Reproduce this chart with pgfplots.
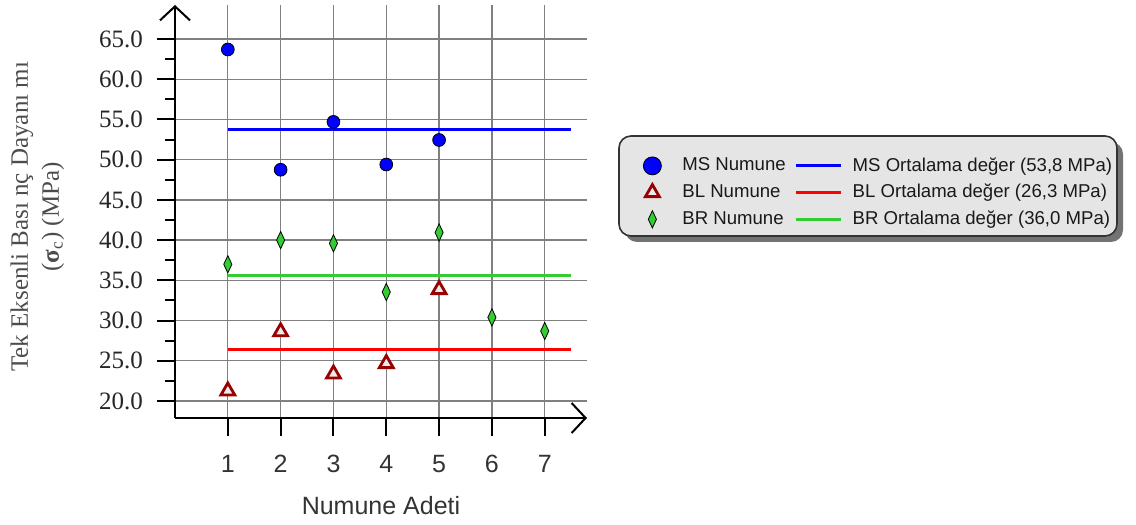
\documentclass[border=0pt]{standalone}
\usepackage{fontspec}
\setmainfont{Liberation Sans}
\newfontfamily\seriffont{Liberation Serif}
\usepackage{pgfplots}
\pgfplotsset{compat=1.18}
\usetikzlibrary{arrows.meta}
\definecolor{msblue}{HTML}{0000FF}
\definecolor{blred}{HTML}{FF0000}
\definecolor{brgreen}{HTML}{33CC33}
\definecolor{tridark}{HTML}{990000}
\definecolor{gridgray}{HTML}{808080}
\pgfplotsset{
  legline/.style={legend image code/.code={\draw[##1] (0cm,0cm) -- (0.79cm,0cm);}},
  bigmark/.style={legend image code/.code={\draw[mark repeat=2,mark phase=2,##1,mark size=4.5pt] plot coordinates {(0cm,0cm) (0.3cm,0cm) (0.6cm,0cm)};}},
}
\begin{document}
\begin{tikzpicture}
\useasboundingbox (0pt,0pt) rectangle (568pt,262.5pt);
% legend frame and shadow (decoration)
\fill[black!55, rounded corners=6pt] (312.5pt,141.5pt) rectangle (561.5pt,191.5pt);
\draw[black!80, line width=0.8pt, fill=black!10, rounded corners=6pt] (309.5pt,144.5pt) rectangle (558.5pt,194.5pt);
\begin{axis}[
  at={(87.5pt,53.5pt)}, anchor=south west,
  scale only axis, width=206pt, height=206.5pt,
  xmin=0, xmax=7.8, ymin=17.89, ymax=69.23,
  axis lines*=left,
  axis line style={line width=1pt, -{Straight Barb[length=7pt,width=15pt,line width=1pt]}},
  xtick={1,...,7}, ytick={20,25,...,65}, minor ytick={22.5,27.5,...,62.5},
  tick align=outside, major tick length=9pt, minor tick length=5pt,
  every tick/.style={black, line width=1pt},
  grid=major, major grid style={gridgray, line width=0.65pt},
  /pgf/number format/assume math mode=true,
  xticklabel style={font=\fontsize{12.5}{14}\selectfont, text=black!80, yshift=-6pt},
  yticklabel style={font=\seriffont\fontsize{12.5}{14}\selectfont, text=black!85, xshift=-3.5pt,
    /pgf/number format/.cd, fixed, fixed zerofill, precision=1},
  xlabel={Numune Adeti},
  xlabel style={font=\fontsize{12.5}{15}\selectfont, text=black!80,
    at={(axis description cs:0.5,-0.234)}, anchor=base},
  ylabel={Tek Eksenli Bası nç Dayanı mı\\(\textbf{σ}\textsubscript{c}) (MPa)},
  ylabel style={font=\seriffont\fontsize{12.5}{15.5}\selectfont, text=black!70, align=center,
    at={(axis description cs:-0.334,0.487)}, anchor=center},
  legend columns=2,
  legend cell align=left,
  legend style={at={(1.1213,0.651)}, anchor=north west,
    draw=none, fill=none,
    font=\fontsize{9.3}{11}\selectfont, text=black!90, row sep=1pt,
    /tikz/column 1/.append style={column sep=8.5pt},
    /tikz/column 2/.append style={column sep=2.5pt},
    /tikz/column 3/.append style={column sep=3pt}},
]
% MS points
\addplot[only marks, mark=*, mark size=3.2pt,
  mark options={fill=msblue, draw=black, line width=0.4pt}, bigmark]
  coordinates {(1,63.7) (2,48.75) (3,54.7) (4,49.4) (5,52.45)};
\addlegendentry{MS Numune}
\addplot[msblue, line width=1.5pt, legline]
  coordinates {(1,53.8) (7.5,53.8)};
\addlegendentry{MS Ortalama değer (53,8 MPa)}
% BL points
\addplot[only marks, mark=triangle*, mark size=4pt,
  mark options={fill=black!8, draw=tridark, line width=1.4pt}]
  coordinates {(1,21.25) (2,28.6) (3,23.35) (4,24.65) (5,33.85)};
\addlegendentry{BL Numune}
\addplot[blred, line width=1.3pt, legline]
  coordinates {(1,26.4) (7.5,26.4)};
\addlegendentry{BL Ortalama değer (26,3 MPa)}
% BR points
\addplot[only marks, mark=diamond*, mark size=4.3pt,
  mark options={fill=brgreen, draw=black, line width=0.4pt, xscale=0.63}]
  coordinates {(1,37.0) (2,40.0) (3,39.6) (4,33.55) (5,40.95) (6,30.4) (7,28.7)};
\addlegendentry{BR Numune}
\addplot[brgreen, line width=1.3pt, legline]
  coordinates {(1,35.6) (7.5,35.6)};
\addlegendentry{BR Ortalama değer (36,0 MPa)}
\end{axis}
\end{tikzpicture}
\end{document}
